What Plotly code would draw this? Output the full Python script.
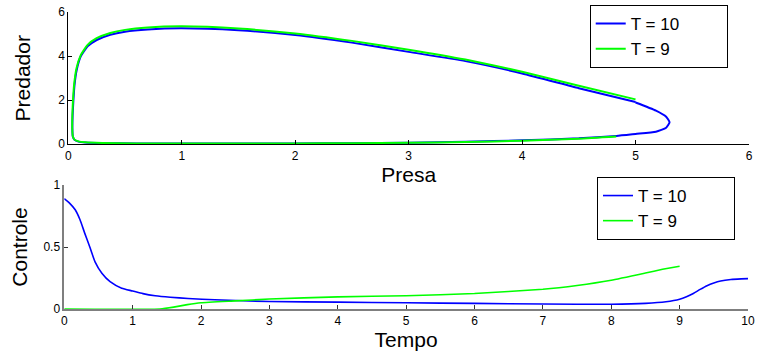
import plotly.graph_objects as go

# ---- Data: phase plane (Presa vs Predador) ----
prey_T10 = [5.0, 4.5, 4.0, 3.5, 3.0, 2.5, 2.0, 1.5, 1.0, 0.7, 0.5, 0.37, 0.25, 0.17, 0.11,
            0.075, 0.055, 0.045, 0.038, 0.036, 0.04, 0.055, 0.09, 0.15, 0.3, 0.6, 1.0, 1.5,
            2.0, 2.5, 3.0, 3.5, 4.0, 4.5, 4.83, 5.0, 5.18, 5.27, 5.30, 5.27, 5.18, 5.0]
pred_T10 = [1.92, 2.55, 3.22, 3.78, 4.2, 4.62, 4.97, 5.18, 5.27, 5.22, 5.12, 4.98, 4.74, 4.45, 4.0,
            3.4, 2.7, 2.0, 1.3, 0.7, 0.35, 0.2, 0.12, 0.08, 0.05, 0.035, 0.03, 0.03,
            0.035, 0.05, 0.07, 0.11, 0.18, 0.27, 0.38, 0.47, 0.57, 0.75, 1.0, 1.25, 1.53, 1.9]

prey_T9 = [5.0, 4.5, 4.0, 3.5, 3.0, 2.5, 2.0, 1.5, 1.0, 0.7, 0.5, 0.37, 0.25, 0.17, 0.11,
           0.072, 0.052, 0.042, 0.036, 0.035, 0.04, 0.055, 0.09, 0.15, 0.3, 0.6, 1.0, 1.5,
           2.0, 2.5, 3.0, 3.5, 4.0, 4.5, 4.83]
pred_T9 = [2.04, 2.66, 3.3, 3.85, 4.3, 4.7, 5.04, 5.26, 5.36, 5.31, 5.2, 5.06, 4.82, 4.52, 4.05,
           3.45, 2.75, 2.05, 1.35, 0.72, 0.36, 0.21, 0.13, 0.09, 0.06, 0.04, 0.035, 0.03,
           0.035, 0.05, 0.065, 0.1, 0.16, 0.25, 0.35]

# ---- Data: control vs time ----
t_T10 = [0, 0.08, 0.16, 0.23, 0.3, 0.38, 0.45, 0.55, 0.67, 0.84, 1.0, 1.15, 1.33, 1.55, 1.81,
         2.2, 3, 4, 5, 6, 7, 8, 8.5, 8.8, 9.0, 9.1, 9.2, 9.3, 9.4, 9.5, 9.6, 9.75, 9.9, 10]
u_T10 = [0.89, 0.852, 0.80, 0.72, 0.61, 0.49, 0.38, 0.288, 0.22, 0.167, 0.145, 0.124, 0.107,
         0.095, 0.085, 0.074, 0.06, 0.055, 0.05, 0.045, 0.04, 0.038, 0.045, 0.058, 0.078,
         0.098, 0.125, 0.158, 0.188, 0.21, 0.226, 0.238, 0.243, 0.245]

t_T9 = [0, 1.4, 1.6, 1.8, 2.0, 2.5, 3, 4, 5, 6, 7, 7.5, 8, 8.5, 8.75, 9]
u_T9 = [0, 0, 0.015, 0.035, 0.05, 0.065, 0.08, 0.098, 0.107, 0.125, 0.159, 0.19, 0.232,
        0.29, 0.32, 0.345]

labels = ["T = 10", "T = 9"]
PAD = "\u00a0" * 9  # widen legend box like the reference
BLUE = "#0000ff"
GREEN = "#00ff00"
FONT = "Liberation Sans, Arial, sans-serif"

fig = go.Figure()
fig.add_trace(go.Scatter(x=prey_T10, y=pred_T10, mode="lines", name=labels[0] + PAD,
                         line=dict(color=BLUE, width=2, shape="spline", smoothing=0.5),
                         xaxis="x", yaxis="y", legend="legend"))
fig.add_trace(go.Scatter(x=prey_T9, y=pred_T9, mode="lines", name=labels[1] + PAD,
                         line=dict(color=GREEN, width=2, shape="spline", smoothing=0.5),
                         xaxis="x", yaxis="y", legend="legend"))
fig.add_trace(go.Scatter(x=t_T10, y=u_T10, mode="lines", name=labels[0] + PAD,
                         line=dict(color=BLUE, width=1.6, shape="spline", smoothing=0.6),
                         xaxis="x2", yaxis="y2", legend="legend2"))
fig.add_trace(go.Scatter(x=t_T9, y=u_T9, mode="lines", name=labels[1] + PAD,
                         line=dict(color=GREEN, width=1.6, shape="spline", smoothing=0.4),
                         xaxis="x2", yaxis="y2", legend="legend2"))

axis_common = dict(showgrid=False, zeroline=False, showline=True, ticks="inside",
                   ticklen=4, automargin=False, mirror=False,
                   tickfont=dict(family=FONT, size=12, color="black"),
                   title_font=dict(family=FONT, size=21, color="black"))

legend_common = dict(xanchor="left", yanchor="top",
                     bgcolor="white", bordercolor="black", borderwidth=1,
                     font=dict(family=FONT, size=17, color="black"),
                     tracegroupgap=0, itemwidth=30)

fig.update_layout(
    template="none",
    width=758, height=351,
    margin=dict(l=0, r=0, t=0, b=0),
    paper_bgcolor="white", plot_bgcolor="white",
    font=dict(family=FONT, color="black"),
    xaxis=dict(domain=[0.0901, 0.9881], range=[0, 6], tickvals=[0, 1, 2, 3, 4, 5, 6],
               anchor="y", linecolor="black", tickcolor="black", linewidth=1,
               title=dict(text="Presa", standoff=4), **axis_common),
    yaxis=dict(domain=[0.589, 0.965], range=[0, 6], tickvals=[0, 2, 4, 6],
               anchor="x", linecolor="black", tickcolor="black", linewidth=1,
               title=dict(text="Predador", standoff=21), **axis_common),
    xaxis2=dict(domain=[0.0848, 0.9868], range=[0, 10], tickvals=list(range(0, 11)),
                anchor="y2", linecolor="#7f7f7f", tickcolor="#333333", linewidth=1.5,
                title=dict(text="Tempo", standoff=3), **axis_common),
    yaxis2=dict(domain=[0.1197, 0.4729], range=[0, 1], tickvals=[0, 0.5, 1],
                ticktext=["0", "0.5", "1"],
                anchor="x2", linecolor="#7f7f7f", tickcolor="#333333", linewidth=1.5,
                title=dict(text="Controle", standoff=10), **axis_common),
    legend=dict(x=0.778, y=1 - 5 / 351, **legend_common),
    legend2=dict(x=0.7876, y=1 - 177 / 351, **legend_common),
    showlegend=True,
)

fig.write_html("out.html", config={"displayModeBar": False},
               post_script="document.body.style.margin='0px';document.body.style.overflow='hidden';")
